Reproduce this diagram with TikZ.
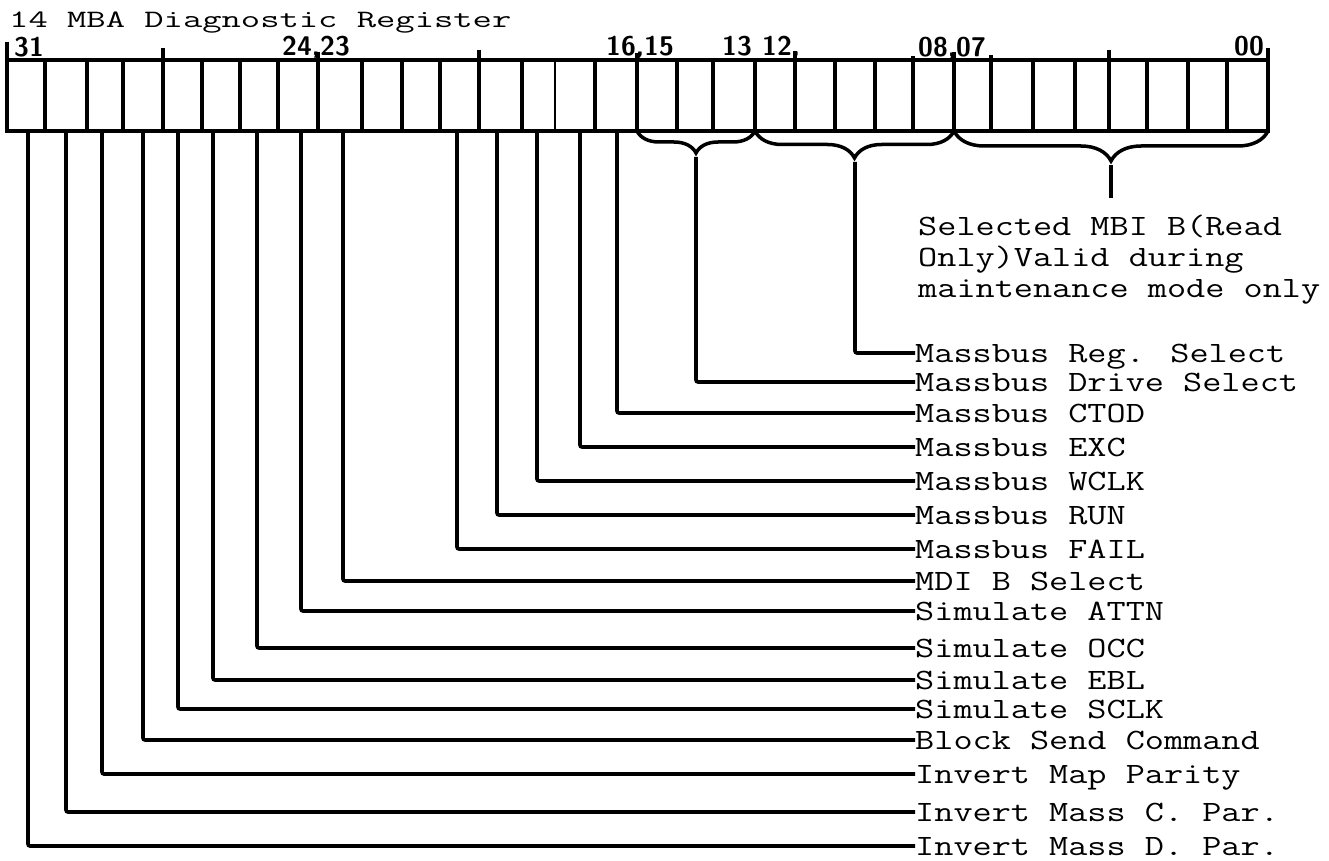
\documentclass[tikz,border=0pt]{standalone}
\usetikzlibrary{decorations.pathreplacing}
\begin{document}
\begin{tikzpicture}[x=1pt,y=-1pt,
  reg/.style={line width=3.5pt},
  divider/.style={line width=3.2pt},
  lead/.style={line width=3.6pt, rounded corners=2pt},
  lab/.style={anchor=west, inner sep=0pt, text height=18pt, text depth=0pt,
    font=\ttfamily\fontsize{29.5}{31}\selectfont},
  mbitext/.style={anchor=base west, inner sep=0pt,
    font=\ttfamily\fontsize{29.5}{31}\selectfont},
  bitnum/.style={anchor=base west, inner sep=0pt,
    font=\sffamily\bfseries\fontsize{27}{28}\selectfont},
  bracestyle/.style={line width=3.5pt, decorate,
    decoration={brace, mirror, amplitude=#1}},
]
\useasboundingbox (0,0) rectangle (1329,861);

% title
\node[anchor=base west, inner sep=0pt, font=\ttfamily\fontsize{25}{26}\selectfont]
  (title) at (9,28) {\scalebox{1.5}[1]{14 MBA Diagnostic Register}};

% register box
\draw[reg] (7,60) rectangle (1268,131);
\draw[reg] (7,42) -- (7,133);
\foreach \x in {45,87,123,163,202,240,278,318,362,402,440,479,522,595,637,677,713,755,795,835,875,913,954,991,1033,1075,1109,1147,1188,1227}
  \draw[divider] (\x,60) -- (\x,131);
\draw[line width=1.2pt] (555,60) -- (555,131);
\foreach \x/\t in {163/48,318/52,479/50,637/53,795/51,954/52,1109/50,1268/48}
  \draw[reg] (\x,\t) -- (\x,61);
\foreach \x/\t in {913/56,991/55}
  \draw[divider] (\x,\t) -- (\x,61);

% bit numbers
\node[bitnum] (n31) at (14,57) {31};
\node[bitnum] (n24) at (282,56) {24,23};
\node[bitnum] (n16) at (606,56) {16,15};
\node[bitnum] (n13) at (722,56) {13};
\node[bitnum] (n12) at (762,56) {12,};
\node[bitnum] (n08) at (918,57) {08,07};
\node[bitnum] (n00) at (1234,56) {00};

% braces
\draw[bracestyle=22pt] (637,131) -- (755,131);
\draw[bracestyle=27pt] (755,131) -- (954,131);
\draw[bracestyle=30pt] (954,131) -- (1268,131);
\coordinate (cDrive) at (696,157);
\coordinate (cReg) at (855,162);
\coordinate (cMBI) at (1111,165);
\coordinate (mbiEnd) at (1111,198);

% MBI text
\node[mbitext] (mbi1) at (918,235) {\scalebox{1.26}[1]{Selected MBI B(Read}};
\node[mbitext] (mbi2) at (918,266) {\scalebox{1.26}[1]{Only)Valid during}};
\node[mbitext] (mbi3) at (918,297) {\scalebox{1.26}[1]{maintenance mode only}};

% labels
\node[lab] (lReg)   at (915,353) {\scalebox{1.26}[1]{Massbus Reg. Select}};
\node[lab] (lDrive) at (915,382) {\scalebox{1.26}[1]{Massbus Drive Select}};
\node[lab] (lCTOD)  at (915,413) {\scalebox{1.26}[1]{Massbus CTOD}};
\node[lab] (lEXC)   at (915,447) {\scalebox{1.26}[1]{Massbus EXC}};
\node[lab] (lWCLK)  at (915,481) {\scalebox{1.26}[1]{Massbus WCLK}};
\node[lab] (lRUN)   at (915,515) {\scalebox{1.26}[1]{Massbus RUN}};
\node[lab] (lFAIL)  at (915,549) {\scalebox{1.26}[1]{Massbus FAIL}};
\node[lab] (lMDI)   at (915,581) {\scalebox{1.26}[1]{MDI B Select}};
\node[lab] (lATTN)  at (915,611) {\scalebox{1.26}[1]{Simulate ATTN}};
\node[lab] (lOCC)   at (915,648) {\scalebox{1.26}[1]{Simulate OCC}};
\node[lab] (lEBL)   at (915,680) {\scalebox{1.26}[1]{Simulate EBL}};
\node[lab] (lSCLK)  at (915,709) {\scalebox{1.26}[1]{Simulate SCLK}};
\node[lab] (lBlock) at (915,740) {\scalebox{1.26}[1]{Block Send Command}};
\node[lab] (lMap)   at (915,774) {\scalebox{1.26}[1]{Invert Map Parity}};
\node[lab] (lMassC) at (915,812) {\scalebox{1.26}[1]{Invert Mass C. Par.}};
\node[lab] (lMassD) at (915,846) {\scalebox{1.26}[1]{Invert Mass D. Par.}};

% bit leader start points
\coordinate (b31) at (28,131);
\coordinate (b30) at (66,131);
\coordinate (b29) at (102,131);
\coordinate (b28) at (143,131);
\coordinate (b27) at (178,131);
\coordinate (b26) at (213,131);
\coordinate (b25) at (257,131);
\coordinate (b24) at (301,131);
\coordinate (b23) at (343,131);
\coordinate (b20) at (457,131);
\coordinate (b19) at (497,131);
\coordinate (b18) at (537,131);
\coordinate (b17) at (580,131);
\coordinate (b16) at (617,131);

% leaders
\draw[lead] (b31) |- (lMassD.west);
\draw[lead] (b30) |- (lMassC.west);
\draw[lead] (b29) |- (lMap.west);
\draw[lead] (b28) |- (lBlock.west);
\draw[lead] (b27) |- (lSCLK.west);
\draw[lead] (b26) |- (lEBL.west);
\draw[lead] (b25) |- (lOCC.west);
\draw[lead] (b24) |- (lATTN.west);
\draw[lead] (b23) |- (lMDI.west);
\draw[lead] (b20) |- (lFAIL.west);
\draw[lead] (b19) |- (lRUN.west);
\draw[lead] (b18) |- (lWCLK.west);
\draw[lead] (b17) |- (lEXC.west);
\draw[lead] (b16) |- (lCTOD.west);
\draw[lead] (cDrive) |- (lDrive.west);
\draw[lead] (cReg) |- (lReg.west);
\draw[lead] (cMBI) -- (mbiEnd);
\end{tikzpicture}
\end{document}
